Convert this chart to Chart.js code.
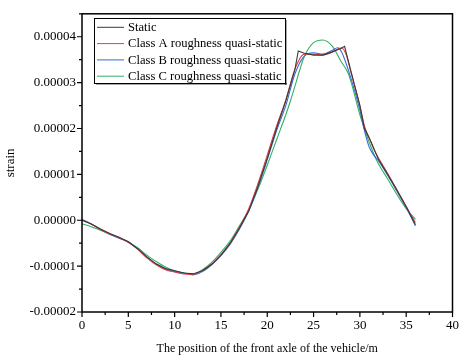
<!DOCTYPE html>
<html>
<head>
<meta charset="utf-8">
<script src="https://cdn.jsdelivr.net/npm/chart.js@4.4.0/dist/chart.umd.min.js"></script>
<style>
html,body{margin:0;padding:0;background:#fff;}
#wrap{width:465px;height:360px;position:relative;}
</style>
</head>
<body>
<div id="wrap"><canvas id="c" width="465" height="360"></canvas></div>
<script>
// Values in units of 1e-5 strain
const seriesLabels = ["Static", "Class A roughness quasi-static", "Class B roughness quasi-static", "Class C roughness quasi-static"];

const staticX = [0,1,2,3,4,5,6,7,8,9,10,11,12,13,14,15,16,17,18,19,20,21,22,23,23.35,24,25,26,27,28,28.35,29,30,30.5,31.2,32,33,34,35,36];
const staticY = [0.0,-0.08,-0.19,-0.29,-0.37,-0.47,-0.62,-0.8,-0.95,-1.05,-1.1,-1.15,-1.17,-1.1,-0.96,-0.76,-0.5,-0.17,0.2,0.74,1.35,2.0,2.6,3.3,3.69,3.64,3.6,3.6,3.67,3.75,3.79,3.28,2.5,2.0,1.71,1.33,1.0,0.66,0.3,-0.1];

const classAX = [0,1,2,3,4,5,6,7,8,9,10,11,12,13,14,15,16,17,18,19,20,21,22,23,24,25,26,27,28,28.5,29,30,30.5,31,31.5,32,33,34,35,36];
const classAY = [0.0,-0.08,-0.2,-0.3,-0.38,-0.48,-0.63,-0.82,-0.97,-1.08,-1.13,-1.17,-1.18,-1.1,-0.96,-0.75,-0.5,-0.15,0.25,0.8,1.42,2.05,2.62,3.3,3.62,3.62,3.6,3.66,3.76,3.62,3.25,2.5,2.05,1.8,1.55,1.36,1.02,0.66,0.3,-0.05];

const classBX = [0,1,2,3,4,5,6,7,8,9,10,11,12,13,14,15,16,17,18,19,20,21,22,23,24,25,26,27,27.6,28,29,30,30.5,31,31.5,32,33,34,35,36];
const classBY = [0.02,-0.08,-0.2,-0.31,-0.39,-0.47,-0.62,-0.8,-0.96,-1.06,-1.12,-1.15,-1.19,-1.12,-0.97,-0.77,-0.52,-0.19,0.2,0.72,1.32,1.95,2.5,3.2,3.58,3.65,3.62,3.7,3.76,3.68,3.12,2.4,1.95,1.6,1.42,1.3,0.98,0.63,0.27,-0.12];

const classCX = [0,1,2,3,4,5,6,7,8,9,10,11,12,13,14,15,16,17,18,19,20,21,22,22.5,23,23.5,24,25,26,27,28,28.7,29,30,31,31.9,33,34,35,36];
const classCY = [-0.08,-0.14,-0.22,-0.3,-0.38,-0.48,-0.6,-0.76,-0.9,-1.02,-1.1,-1.15,-1.17,-1.08,-0.92,-0.7,-0.45,-0.12,0.22,0.68,1.2,1.75,2.3,2.6,2.93,3.27,3.57,3.87,3.93,3.8,3.45,3.22,3.05,2.3,1.7,1.27,0.9,0.56,0.25,0.02];

const xTickValues = [0,5,10,15,20,25,30,35,40];
const yTickValues = [-2,-1,0,1,2,3,4];

function pts(xs, ys){ return xs.map((x,i)=>({x:x, y:ys[i]})); }

const colors = ["#3a3a3a", "#ee3b3b", "#2f6fdc", "#34b060"];

const FONT = "'Liberation Serif','Times New Roman',serif";

const framePlugin = {
  id: 'frame',
  afterDraw(chart){
    const ctx = chart.ctx;
    const a = chart.chartArea;
    const xs = chart.scales.x, ys = chart.scales.y;
    ctx.save();
    ctx.strokeStyle = '#000';
    ctx.lineWidth = 1.5;
    ctx.strokeRect(a.left, a.top, a.right - a.left, a.bottom - a.top);
    // ticks
    ctx.lineWidth = 1.2;
    ctx.beginPath();
    for (let v = 0; v <= 40.001; v += 2.5) {
      const px = xs.getPixelForValue(v);
      const major = Math.abs(v/5 - Math.round(v/5)) < 1e-6;
      ctx.moveTo(px, a.bottom);
      ctx.lineTo(px, a.bottom + (major ? 5 : 3));
    }
    for (let v = -2; v <= 4.501; v += 0.5) {
      const py = ys.getPixelForValue(v);
      const major = Math.abs(v - Math.round(v)) < 1e-6;
      ctx.moveTo(a.left, py);
      ctx.lineTo(a.left - (major ? 5 : 3), py);
    }
    ctx.stroke();
    // legend
    const bx = 94, by = 18, bw = 191, bh = 65;
    ctx.fillStyle = '#fff';
    ctx.fillRect(bx, by, bw, bh);
    ctx.fillStyle = '#555';
    ctx.fillRect(bx + 2, by + bh, bw, 1.5);
    ctx.fillRect(bx + bw, by + 2, 1.5, bh);
    ctx.strokeStyle = '#000';
    ctx.lineWidth = 1;
    ctx.strokeRect(bx + 0.5, by + 0.5, bw, bh);
    ctx.font = "12.6px " + FONT;
    ctx.textBaseline = 'middle';
    ctx.textAlign = 'left';
    chart.data.datasets.forEach((ds, i) => {
      const cy = 27.3 + i * 16.3;
      ctx.strokeStyle = ds.borderColor;
      ctx.lineWidth = 1;
      ctx.beginPath();
      ctx.moveTo(97, cy);
      ctx.lineTo(124, cy);
      ctx.stroke();
      ctx.fillStyle = '#000';
      ctx.fillText(ds.label, 128, cy + 0.5);
    });
    ctx.restore();
  }
};

new Chart(document.getElementById('c'), {
  type: 'line',
  data: {
    datasets: [
      {label: seriesLabels[0], data: pts(staticX, staticY), borderColor: colors[0], tension: 0},
      {label: seriesLabels[1], data: pts(classAX, classAY), borderColor: colors[1], cubicInterpolationMode: 'monotone'},
      {label: seriesLabels[2], data: pts(classBX, classBY), borderColor: colors[2], cubicInterpolationMode: 'monotone'},
      {label: seriesLabels[3], data: pts(classCX, classCY), borderColor: colors[3], cubicInterpolationMode: 'monotone'}
    ].map(d => Object.assign({borderWidth: 1.1, pointRadius: 0, fill: false}, d))
  },
  options: {
    responsive: false,
    animation: false,
    devicePixelRatio: 1,
    layout: {padding: {top: 11, right: 10, left: 0, bottom: 0}},
    plugins: {legend: {display: false}, tooltip: {enabled: false}},
    scales: {
      x: {
        type: 'linear', min: 0, max: 40,
        afterBuildTicks: s => { s.ticks = xTickValues.map(v => ({value: v})); },
        afterFit: s => { s.height = 48; },
        grid: {display: false, drawTicks: false},
        border: {display: false},
        ticks: {color: '#000', font: {family: FONT, size: 13}, padding: 6, maxRotation: 0, callback: v => String(v)},
        title: {display: true, text: 'The position of the front axle of the vehicle/m', color: '#000', font: {family: FONT, size: 12}, padding: {top: 0, bottom: 4}}
      },
      y: {
        type: 'linear', min: -2, max: 4.5,
        afterBuildTicks: s => { s.ticks = yTickValues.map(v => ({value: v})); },
        afterFit: s => { s.width = 82; },
        grid: {display: false, drawTicks: false},
        border: {display: false},
        ticks: {color: '#000', font: {family: FONT, size: 13}, padding: 6, callback: v => (v / 1e5).toFixed(5)},
        title: {display: true, text: 'strain', color: '#000', font: {family: FONT, size: 13}, padding: {top: 3, bottom: 0}}
      }
    }
  },
  plugins: [framePlugin]
});
</script>
</body>
</html>
